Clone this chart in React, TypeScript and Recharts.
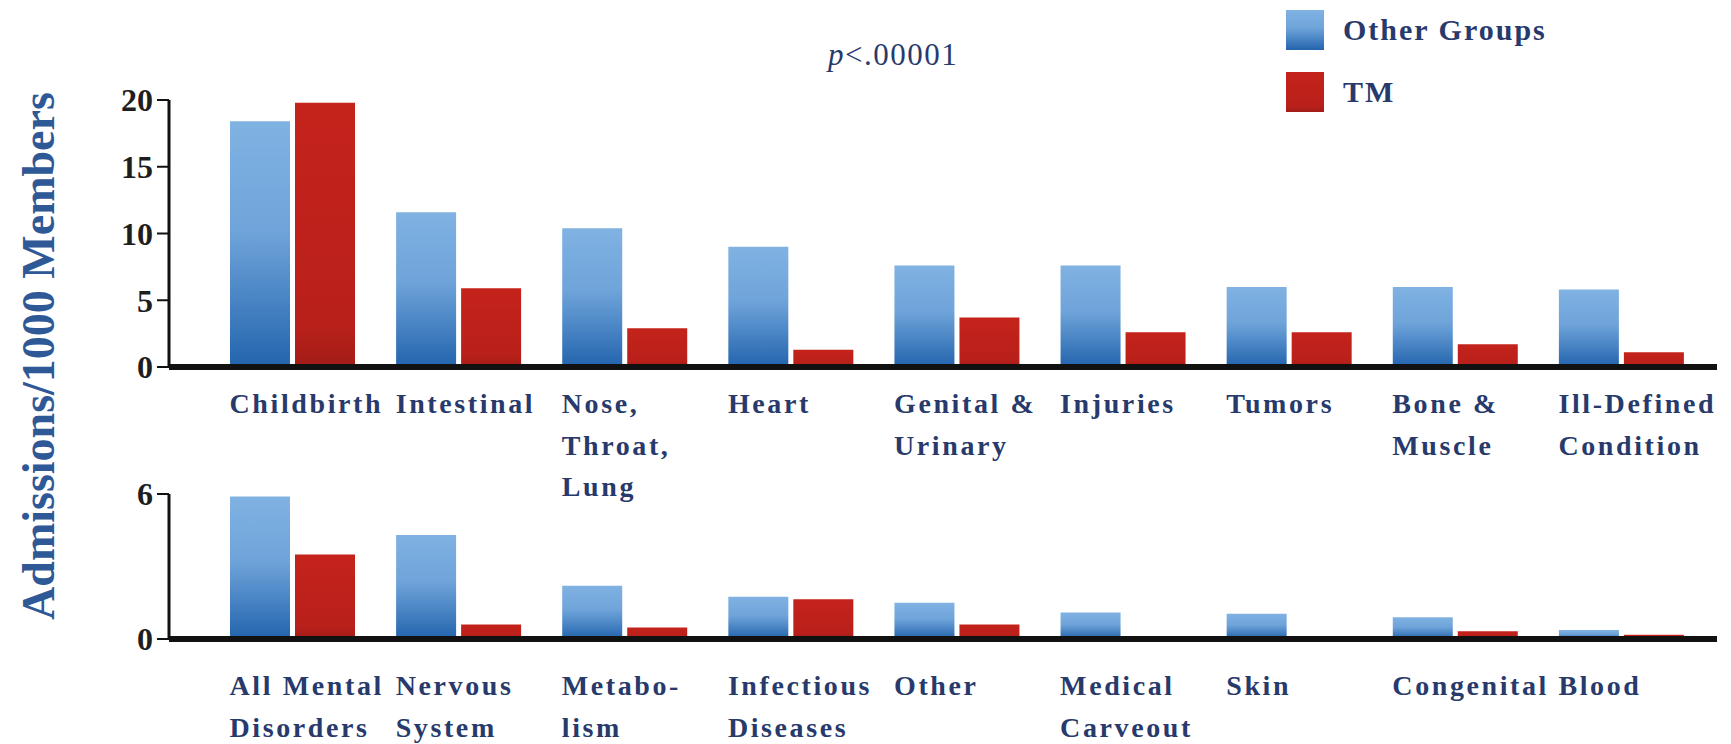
import { BarChart, Bar, XAxis, YAxis, Legend } from 'recharts';

const SERIF = '"Liberation Serif", "DejaVu Serif", serif';
const NAVY = '#283a6c';

// upper panel
const topCategories = [
  'Childbirth', 'Intestinal', 'Nose,\nThroat,\nLung', 'Heart', 'Genital &\nUrinary',
  'Injuries', 'Tumors', 'Bone &\nMuscle', 'Ill-Defined\nCondition',
];
const topOther = [18.4, 11.6, 10.4, 9.0, 7.6, 7.6, 6.0, 6.0, 5.8];
const topTM = [19.8, 5.9, 2.9, 1.3, 3.7, 2.6, 2.6, 1.7, 1.1];
const topTicks = [0, 5, 10, 15, 20];

// lower panel
const bottomCategories = [
  'All Mental\nDisorders', 'Nervous\nSystem', 'Metabo-\nlism', 'Infectious\nDiseases', 'Other',
  'Medical\nCarveout', 'Skin', 'Congenital', 'Blood',
];
const bottomOther = [5.9, 4.3, 2.2, 1.75, 1.5, 1.1, 1.05, 0.9, 0.37];
const bottomTM = [3.5, 0.6, 0.48, 1.65, 0.6, 0, 0, 0.32, 0.18];
const bottomTicks = [0, 6];

const seriesNames = ['Other Groups', 'TM'];

const topData = topCategories.map((name, i) => ({ name, other: topOther[i], tm: topTM[i] }));
const bottomData = bottomCategories.map((name, i) => ({ name, other: bottomOther[i], tm: bottomTM[i] }));

const CSS_FILL: Record<string, string> = {
  other: 'linear-gradient(to bottom, #80b2e2 0%, #6fa4da 45%, #2364ad 100%)',
  tm: 'linear-gradient(to bottom, #c4231b 0%, #b9201a 85%, #a21c17 100%)',
};

function Gradients() {
  return (
    <defs>
      <linearGradient id="blueGrad" x1="0" y1="0" x2="0" y2="1">
        <stop offset="0%" stopColor="#80b2e2" />
        <stop offset="45%" stopColor="#6fa4da" />
        <stop offset="100%" stopColor="#2364ad" />
      </linearGradient>
      <linearGradient id="redGrad" x1="0" y1="0" x2="0" y2="1">
        <stop offset="0%" stopColor="#c4231b" />
        <stop offset="85%" stopColor="#b9201a" />
        <stop offset="100%" stopColor="#a21c17" />
      </linearGradient>
    </defs>
  );
}

// left-aligned multi-line category label, starting at the blue bar's left edge
function makeTick(firstLine: number) {
  return (props: any) => {
    const { x, y, payload } = props;
    const lines = String(payload.value).split('\n');
    return (
      <text
        x={x - 62.5}
        y={y + firstLine}
        fill={NAVY}
        fontFamily={SERIF}
        fontWeight="bold"
        fontSize={28}
        letterSpacing={2.6}
        textAnchor="start"
      >
        {lines.map((l, i) => (
          <tspan key={i} x={x - 62.5} dy={i === 0 ? 0 : 41.5}>
            {l}
          </tspan>
        ))}
      </text>
    );
  };
}

function renderLegend(props: any) {
  const { payload } = props;
  return (
    <div>
      {(payload || []).map((entry: any, i: number) => (
        <div key={i} style={{ display: 'flex', alignItems: 'center', height: 40, marginBottom: 22 }}>
          <div style={{ width: 38, height: 40, background: CSS_FILL[entry.dataKey] }} />
          <span
            style={{
              marginLeft: 19,
              fontFamily: SERIF,
              fontWeight: 'bold',
              fontSize: 30,
              letterSpacing: 2,
              color: NAVY,
            }}
          >
            {entry.value}
          </span>
        </div>
      ))}
    </div>
  );
}

const yTick = { fill: '#1e1e1e', fontSize: 32, fontFamily: SERIF, fontWeight: 'bold' };

export default function App() {
  return (
    <div style={{ position: 'absolute', left: 0, top: 0, width: 1731, height: 744, background: '#fff', overflow: 'hidden' }}>
      {/* upper panel */}
      <div style={{ position: 'absolute', left: 0, top: 0 }}>
        <BarChart
          width={1731}
          height={520}
          data={topData}
          margin={{ top: 100, right: 14, bottom: 123, left: 109 }}
          barSize={60}
          barGap={5}
        >
          <Gradients />
          <XAxis
            dataKey="name"
            interval={0}
            height={30}
            padding={{ left: 40, right: 13 }}
            axisLine={{ stroke: '#111', strokeWidth: 6 }}
            tickLine={false}
            tickSize={0}
            tickMargin={0}
            tick={makeTick(46)}
          />
          <YAxis
            width={60}
            domain={[0, 20]}
            ticks={topTicks}
            interval={0}
            axisLine={{ stroke: '#111', strokeWidth: 3 }}
            tickLine={{ stroke: '#111', strokeWidth: 2 }}
            tickSize={12}
            tickMargin={4}
            tick={yTick}
          />
          <Legend
            layout="vertical"
            align="center"
            verticalAlign="middle"
            content={renderLegend}
            wrapperStyle={{ left: 1286, top: 10, width: 320, height: 130 }}
          />
          <Bar dataKey="other" name={seriesNames[0]} fill="url(#blueGrad)" isAnimationActive={false} />
          <Bar dataKey="tm" name={seriesNames[1]} fill="url(#redGrad)" isAnimationActive={false} />
        </BarChart>
      </div>

      {/* lower panel */}
      <div style={{ position: 'absolute', left: 0, top: 440 }}>
        <BarChart
          width={1731}
          height={304}
          data={bottomData}
          margin={{ top: 54, right: 14, bottom: 75, left: 109 }}
          barSize={60}
          barGap={5}
        >
          <XAxis
            dataKey="name"
            interval={0}
            height={30}
            padding={{ left: 40, right: 13 }}
            axisLine={{ stroke: '#111', strokeWidth: 6 }}
            tickLine={false}
            tickSize={0}
            tickMargin={0}
            tick={makeTick(56)}
          />
          <YAxis
            width={60}
            domain={[0, 6]}
            ticks={bottomTicks}
            interval={0}
            axisLine={{ stroke: '#111', strokeWidth: 3 }}
            tickLine={{ stroke: '#111', strokeWidth: 2 }}
            tickSize={12}
            tickMargin={4}
            tick={yTick}
          />
          <Bar dataKey="other" name={seriesNames[0]} fill="url(#blueGrad)" isAnimationActive={false} />
          <Bar dataKey="tm" name={seriesNames[1]} fill="url(#redGrad)" isAnimationActive={false} />
        </BarChart>
      </div>

      {/* p value */}
      <div
        style={{
          position: 'absolute', left: 828, top: 40, fontFamily: SERIF, fontSize: 31,
          lineHeight: '30px', color: NAVY, letterSpacing: 1.5, whiteSpace: 'nowrap',
        }}
      >
        <i>p</i>&lt;.00001
      </div>

      {/* y axis title */}
      <div
        style={{
          position: 'absolute', left: 38.5 - 300, top: 356 - 25, width: 600, height: 50,
          lineHeight: '50px', textAlign: 'center', transform: 'rotate(-90deg)',
          fontFamily: SERIF, fontWeight: 'bold', fontSize: 46, color: '#2f5896', whiteSpace: 'nowrap',
        }}
      >
        Admissions/1000 Members
      </div>
    </div>
  );
}
